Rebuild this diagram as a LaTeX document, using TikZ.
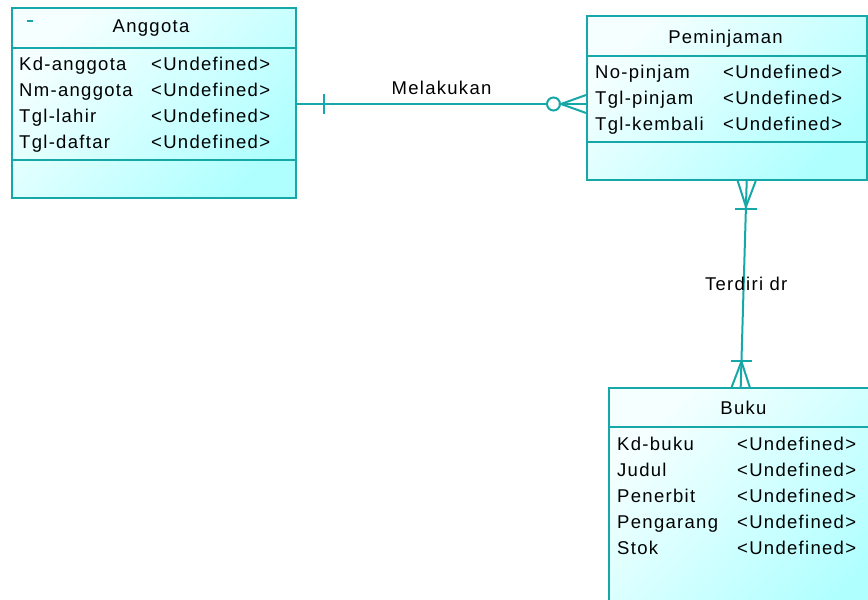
\documentclass[tikz,border=0pt]{standalone}
\usepackage{fontspec}
\setmainfont{Liberation Sans}
\newfontfamily\erfont[LetterSpace=7]{Liberation Sans}
\usetikzlibrary{calc}
\definecolor{edgec}{RGB}{22,168,168}
\definecolor{fillA}{RGB}{246,255,255}
\definecolor{fillB}{RGB}{176,255,255}
\tikzset{
  ent/.style={draw=edgec, line width=2pt, top color=fillA, bottom color=fillB, shading angle=45, anchor=north west, inner sep=0pt},
  div/.style={draw=edgec, line width=2pt},
  conn/.style={draw=edgec, line width=2pt},
  lbl/.style={font=\erfont\fontsize{18.5}{22}\selectfont, inner sep=0pt, text=black},
  row/.style={lbl, anchor=base west},
}
\begin{document}
\begin{tikzpicture}[x=1pt,y=-1pt]
\useasboundingbox (0,0) rectangle (868,600);
% entities
\node[ent, minimum width=284pt, minimum height=190pt] (ang) at (11,7) {};
\node[ent, minimum width=280pt, minimum height=164pt] (pem) at (586,15) {};
\node[ent, minimum width=270pt, minimum height=240pt] (buk) at (608,387) {};
% dividers
\draw[div] ($(ang.north west)+(0,41)$) -- ($(ang.north east)+(0,41)$);
\draw[div] ($(ang.north west)+(0,153)$) -- ($(ang.north east)+(0,153)$);
\draw[div] ($(pem.north west)+(0,41)$) -- ($(pem.north east)+(0,41)$);
\draw[div] ($(pem.north west)+(0,127)$) -- ($(pem.north east)+(0,127)$);
\draw[div] ($(buk.north west)+(0,40)$) -- ($(buk.north east)+(0,40)$);
\draw[div] ($(ang.north west)+(16,14)$) -- ($(ang.north west)+(22,14)$);
% titles
\node[lbl, anchor=base] (angt) at (151,32.7) {Anggota};
\node[lbl, anchor=base] (pemt) at (725.5,43.3) {Peminjaman};
\node[lbl, anchor=base] (bukt) at (743.5,414.3) {Buku};
% Anggota rows
\node[row] (a1) at (19,70.5) {Kd-anggota};
\node[row] (a2) at (19,96.5) {Nm-anggota};
\node[row] (a3) at (19,122.4) {Tgl-lahir};
\node[row] (a4) at (19,148.3) {Tgl-daftar};
\node[row] (a1v) at (151,70.5) {<Undefined>};
\node[row] (a2v) at (151,96.5) {<Undefined>};
\node[row] (a3v) at (151,122.4) {<Undefined>};
\node[row] (a4v) at (151,148.3) {<Undefined>};
% Peminjaman rows
\node[row] (p1) at (595,78.3) {No-pinjam};
\node[row] (p2) at (595,104.3) {Tgl-pinjam};
\node[row] (p3) at (595,130.3) {Tgl-kembali};
\node[row] (p1v) at (723,78.3) {<Undefined>};
\node[row] (p2v) at (723,104.3) {<Undefined>};
\node[row] (p3v) at (723,130.3) {<Undefined>};
% Buku rows
\node[row] (b1) at (617,450) {Kd-buku};
\node[row] (b2) at (617,476) {Judul};
\node[row] (b3) at (617,502) {Penerbit};
\node[row] (b4) at (617,528) {Pengarang};
\node[row] (b5) at (617,554) {Stok};
\node[row] (b1v) at (737,450) {<Undefined>};
\node[row] (b2v) at (737,476) {<Undefined>};
\node[row] (b3v) at (737,502) {<Undefined>};
\node[row] (b4v) at (737,528) {<Undefined>};
\node[row] (b5v) at (737,554) {<Undefined>};
% Melakukan connector
\coordinate (m1) at ($(ang.east)+(0,1)$);
\coordinate (m2) at (m1 -| pem.west);
\draw[conn] (m1) -- (m2) node[lbl, midway, anchor=base, yshift=9.5pt] (ml) {Melakukan};
\draw[conn] ($(m1)+(27,-10)$) -- ($(m1)+(27,10)$);
\draw[conn, fill=white] ($(m2)+(-32.5,0)$) circle (6.5);
\draw[conn] ($(m2)+(0,-9)$) -- ($(m2)+(-25,0)$) -- ($(m2)+(0,9)$);
% Terdiri dr connector
\coordinate (t1) at ($(pem.south west)+(160.7,0)$);
\coordinate (t2) at ($(buk.north west)+(132.7,0)$);
\draw[conn] (t1) -- (t2) node[lbl, pos=0.5, xshift=2.5pt] (tl) {Terdiri dr};
\coordinate (c1) at ($(t1)!0.125!(t2)$);
\coordinate (k1) at ($(t1)!0.136!(t2)$);
\draw[conn] ($(t1)+(-9,0)$) -- (c1) -- ($(t1)+(9,0)$);
\draw[conn] ($(k1)+(-11,0)$) -- ($(k1)+(11,0)$);
\coordinate (c2) at ($(t1)!0.876!(t2)$);
\draw[conn] ($(t2)+(-9,0)$) -- (c2) -- ($(t2)+(9,0)$);
\draw[conn] ($(c2)+(-10.5,0)$) -- ($(c2)+(10.5,0)$);
\end{tikzpicture}
\end{document}
